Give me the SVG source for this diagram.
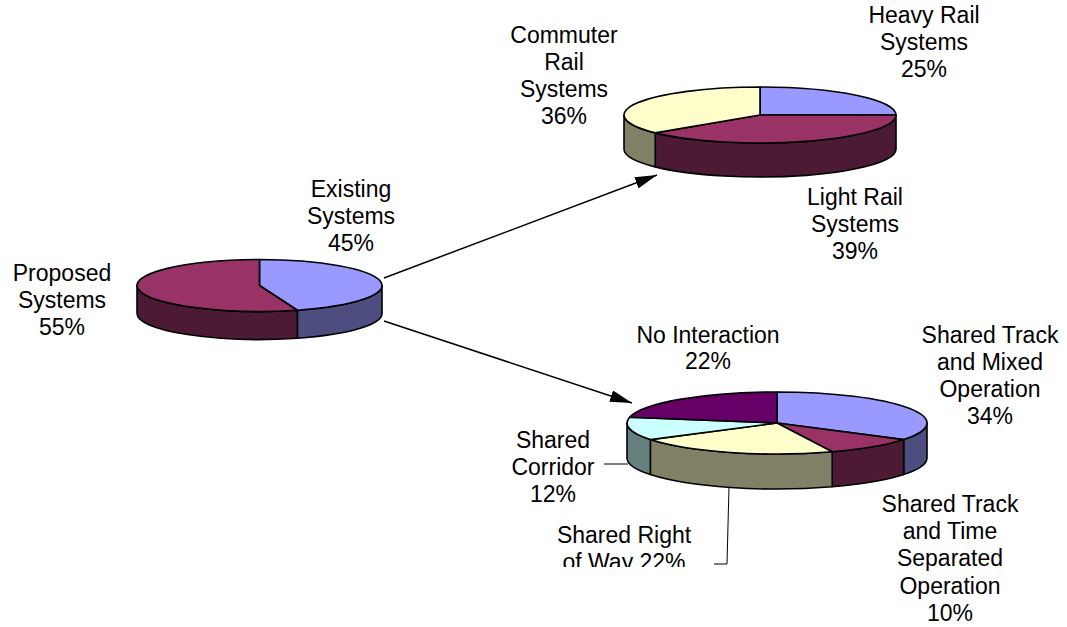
<svg xmlns="http://www.w3.org/2000/svg" width="1067" height="627" viewBox="0 0 1067 627">
  <defs>
    <style>
      .lbl { font-family: "Liberation Sans", Arial, sans-serif; font-size: 23px; fill: #000; text-anchor: middle; }
      .face { stroke: #000; stroke-width: 1.6; stroke-linejoin: round; }
      .blue { fill: #9999FF; }
      .blue-side { fill: #4D4D80; }
      .maroon { fill: #993366; }
      .maroon-side { fill: #4D1A33; }
      .cream { fill: #FFFFCC; }
      .cream-side { fill: #808066; }
      .purple { fill: #660066; }
      .cyan { fill: #CCFFFF; }
      .cyan-side { fill: #668080; }
      .conn { stroke: #000; stroke-width: 1.5; fill: none; }
      .leader { stroke: #000; stroke-width: 1; fill: none; }
    </style>
    <marker id="arrowhead" markerUnits="userSpaceOnUse" markerWidth="22" markerHeight="12" refX="22" refY="6" orient="auto">
      <path d="M0,0 L22,6 L0,12 Z" fill="#000"/>
    </marker>
    <clipPath id="clip-row">
      <rect x="0" y="0" width="1067" height="567"/>
    </clipPath>
  </defs>

  <rect width="1067" height="627" fill="#FFFFFF"/>

  <!-- Overall split: existing vs proposed -->
  <g id="pie-overall">
    <path class="face blue-side" d="M382,285.5 A122.5,26 0 0 1 297.36,310.23 L297.36,338.23 A122.5,26 0 0 0 382,313.5 Z"/>
    <path class="face maroon-side" d="M297.36,310.23 A122.5,26 0 0 1 137,285.5 L137,313.5 A122.5,26 0 0 0 297.36,338.23 Z"/>
    <path class="face blue" d="M259.5,285.5 L259.5,259.5 A122.5,26 0 0 1 297.36,310.23 Z"/>
    <path class="face maroon" d="M259.5,285.5 L297.36,310.23 A122.5,26 0 1 1 259.5,259.5 Z"/>
    <text class="lbl"><tspan x="62" y="281">Proposed</tspan><tspan x="62" y="308">Systems</tspan><tspan x="62" y="335">55%</tspan></text>
    <text class="lbl"><tspan x="351" y="197">Existing</tspan><tspan x="351" y="224">Systems</tspan><tspan x="351" y="251">45%</tspan></text>
  </g>

  <!-- Existing systems by type -->
  <g id="pie-existing">
    <path class="face maroon-side" d="M896,115 A136,28 0 0 1 655.21,132.85 L655.21,166.85 A136,28 0 0 0 896,149 Z"/>
    <path class="face cream-side" d="M655.21,132.85 A136,28 0 0 1 624,115 L624,149 A136,28 0 0 0 655.21,166.85 Z"/>
    <path class="face blue" d="M760,115 L760,87 A136,28 0 0 1 896,115 Z"/>
    <path class="face maroon" d="M760,115 L896,115 A136,28 0 0 1 655.21,132.85 Z"/>
    <path class="face cream" d="M760,115 L655.21,132.85 A136,28 0 0 1 760,87 Z"/>
    <text class="lbl"><tspan x="924" y="23">Heavy Rail</tspan><tspan x="924" y="50">Systems</tspan><tspan x="924" y="77">25%</tspan></text>
    <text class="lbl"><tspan x="564" y="43">Commuter</tspan><tspan x="564" y="70">Rail</tspan><tspan x="564" y="97">Systems</tspan><tspan x="564" y="124">36%</tspan></text>
    <text class="lbl"><tspan x="855" y="205">Light Rail</tspan><tspan x="855" y="232">Systems</tspan><tspan x="855" y="259">39%</tspan></text>
  </g>

  <!-- Interaction with freight operations -->
  <g id="pie-interaction">
    <path class="face blue-side" d="M927,423 A150,31 0 0 1 903.65,439.61 L903.65,474.61 A150,31 0 0 0 927,458 Z"/>
    <path class="face maroon-side" d="M903.65,439.61 A150,31 0 0 1 832.22,451.82 L832.22,486.82 A150,31 0 0 0 903.65,474.61 Z"/>
    <path class="face cream-side" d="M832.22,451.82 A150,31 0 0 1 650.35,439.61 L650.35,474.61 A150,31 0 0 0 832.22,486.82 Z"/>
    <path class="face cyan-side" d="M650.35,439.61 A150,31 0 0 1 627,423 L627,458 A150,31 0 0 0 650.35,474.61 Z"/>
    <path class="face blue" d="M777,423 L777,392 A150,31 0 0 1 903.65,439.61 Z"/>
    <path class="face maroon" d="M777,423 L903.65,439.61 A150,31 0 0 1 832.22,451.82 Z"/>
    <path class="face cream" d="M777,423 L832.22,451.82 A150,31 0 0 1 650.35,439.61 Z"/>
    <path class="face cyan" d="M777,423 L650.35,439.61 A150,31 0 0 1 629.66,417.19 Z"/>
    <path class="face purple" d="M777,423 L629.66,417.19 A150,31 0 0 1 777,392 Z"/>
    <text class="lbl"><tspan x="708" y="343">No Interaction</tspan><tspan x="708" y="369">22%</tspan></text>
    <text class="lbl"><tspan x="990" y="343">Shared Track</tspan><tspan x="990" y="370">and Mixed</tspan><tspan x="990" y="397">Operation</tspan><tspan x="990" y="424">34%</tspan></text>
    <text class="lbl"><tspan x="950" y="512">Shared Track</tspan><tspan x="950" y="539">and Time</tspan><tspan x="950" y="566">Separated</tspan><tspan x="950" y="594">Operation</tspan><tspan x="950" y="621">10%</tspan></text>
    <text class="lbl"><tspan x="553" y="448">Shared</tspan><tspan x="553" y="475">Corridor</tspan><tspan x="553" y="502">12%</tspan></text>
    <text class="lbl" clip-path="url(#clip-row)"><tspan x="624" y="543">Shared Right</tspan><tspan x="624" y="570">of Way 22%</tspan></text>
  </g>

  <g id="connectors">
    <line class="conn" x1="384" y1="278" x2="657" y2="175" marker-end="url(#arrowhead)"/>
    <line class="conn" x1="384" y1="321" x2="632" y2="403" marker-end="url(#arrowhead)"/>
    <path class="leader" d="M604,464 L628,464"/>
    <path class="leader" d="M729,487 L727,564 L714,564"/>
  </g>
</svg>
